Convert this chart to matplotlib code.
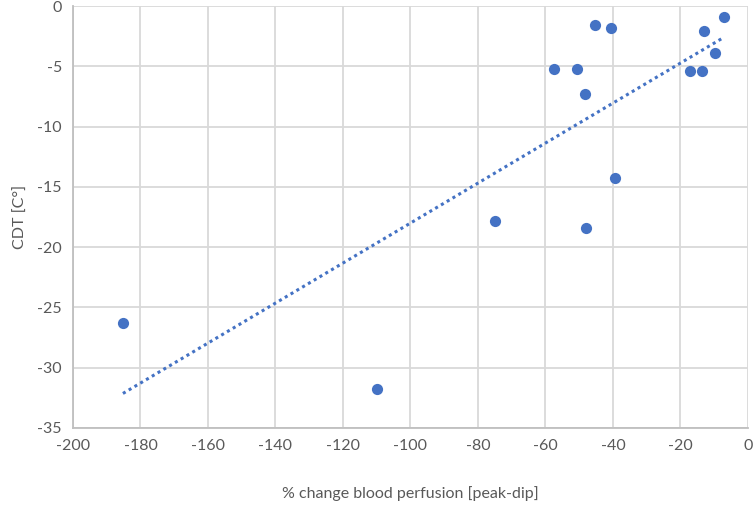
import matplotlib.pyplot as plt
import numpy as np

# Values
perfusion_change = [-185.2, -109.9, -75.0, -57.5, -50.6, -48.2, -48.1, -45.2,
                    -40.5, -39.4, -17.2, -13.6, -13.0, -9.7, -7.2]
cdt = [-26.3, -31.8, -17.8, -5.2, -5.2, -7.3, -18.4, -1.6,
       -1.8, -14.3, -5.35, -5.35, -2.1, -3.9, -0.95]

x = np.array(perfusion_change)
y = np.array(cdt)

plt.rcParams['font.family'] = ['Lato', 'DejaVu Sans']
plt.rcParams['axes.unicode_minus'] = False

fig = plt.figure(figsize=(7.54, 5.13), dpi=100)
ax = fig.add_axes([0.0968, 0.1657, 0.8952, 0.8226])

blue = '#4472C4'
ax.scatter(x, y, s=65, color=blue, zorder=3, linewidths=0)

# Linear trendline
slope, intercept = np.polyfit(x, y, 1)
xs = np.linspace(x.min(), x.max(), 100)
ax.plot(xs, slope * xs + intercept, linestyle=(0, (1, 1.2)), linewidth=2.2,
        color=blue, zorder=2)

ax.set_xlim(-200, 0)
ax.set_ylim(-35, 0)
ax.set_xticks(np.arange(-200, 1, 20))
ax.set_yticks(np.arange(-35, 1, 5))
ax.grid(True, color='#d9d9d9', linewidth=1.3)
ax.set_axisbelow(True)
ax.tick_params(length=0, labelsize=11.5, colors='#595959', pad=8)

for side in ['top', 'right']:
    ax.spines[side].set_visible(False)
for side in ['left', 'bottom']:
    ax.spines[side].set_color('#bfbfbf')
    ax.spines[side].set_linewidth(1.3)

ax.set_xlabel('% change blood perfusion [peak-dip]', fontsize=11.5, color='#595959', labelpad=24)
ax.set_ylabel('CDT [C°]', fontsize=11.5, color='#595959', labelpad=7)

plt.savefig('out.png', dpi=100)
